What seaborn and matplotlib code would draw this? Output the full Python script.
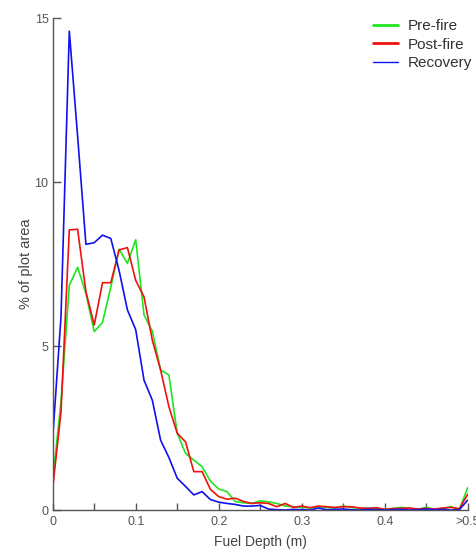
import numpy as np
import pandas as pd
import matplotlib
matplotlib.use("Agg")
import matplotlib.pyplot as plt
from matplotlib.ticker import MultipleLocator, FixedLocator, FixedFormatter
import seaborn as sns

# Fuel depth classes (m), 0.01 m bins; the last bin collects everything above 0.5 m
depth = [round(i * 0.01, 2) for i in range(51)]

pre_fire = [0.9, 3.3, 6.85, 7.4, 6.6, 5.44, 5.72, 6.8, 7.95, 7.52,
            8.24, 5.95, 5.45, 4.27, 4.12, 2.34, 1.73, 1.52, 1.32, 0.88,
            0.64, 0.56, 0.26, 0.22, 0.2, 0.28, 0.25, 0.2, 0.12, 0.1,
            0.08, 0.06, 0.1, 0.08, 0.06, 0.12, 0.08, 0.05, 0.05, 0.05,
            0.02, 0.05, 0.08, 0.05, 0.02, 0.08, 0.02, 0.05, 0.1, 0.02,
            0.68]

post_fire = [0.66, 3.0, 8.54, 8.56, 6.66, 5.64, 6.93, 6.93, 7.93, 8.0,
             7.0, 6.5, 5.18, 4.27, 3.15, 2.34, 2.08, 1.17, 1.17, 0.63,
             0.41, 0.33, 0.36, 0.26, 0.2, 0.22, 0.2, 0.1, 0.2, 0.08,
             0.12, 0.07, 0.12, 0.1, 0.08, 0.1, 0.1, 0.06, 0.05, 0.07,
             0.02, 0.04, 0.05, 0.06, 0.03, 0.05, 0.03, 0.06, 0.08, 0.04,
             0.48]

recovery = [2.2, 5.9, 14.6, 11.4, 8.1, 8.15, 8.38, 8.28, 7.3, 6.1,
            5.5, 3.96, 3.35, 2.13, 1.6, 0.97, 0.72, 0.46, 0.56, 0.32,
            0.24, 0.2, 0.17, 0.12, 0.12, 0.14, 0.03, 0.01, 0.0, 0.02,
            0.01, 0.0, 0.06, 0.01, 0.02, 0.03, 0.01, 0.0, 0.02, 0.01,
            0.0, 0.01, 0.02, 0.0, 0.01, 0.03, 0.01, 0.02, 0.0, 0.01,
            0.3]

series_names = ["Pre-fire", "Post-fire", "Recovery"]
series_colors = {"Pre-fire": "#1fe61f", "Post-fire": "#f01010", "Recovery": "#1010f0"}

x_tick_values = [0.0, 0.1, 0.2, 0.3, 0.4, 0.5]
x_tick_labels = ["0", "0.1", "0.2", "0.3", "0.4", ">0.5"]
y_tick_values = [0, 5, 10, 15]

df = pd.DataFrame({
    "depth": depth * 3,
    "area": pre_fire + post_fire + recovery,
    "period": sum([[name] * len(depth) for name in series_names], []),
})

sns.set_theme(style="ticks")
plt.rcParams["font.family"] = ["Liberation Sans", "DejaVu Sans"]

fig = plt.figure(figsize=(4.77, 5.5), dpi=100)
ax = fig.add_axes([0.1105, 0.0727, 0.87, 0.8945])

sns.lineplot(data=df, x="depth", y="area", hue="period", hue_order=series_names,
             palette=series_colors, linewidth=1.2, ax=ax, legend=True)

ax.set_xlim(0, 0.5)
ax.set_ylim(0, 15)

spine_color = "#555555"
for side in ("top", "right"):
    ax.spines[side].set_visible(False)
for side in ("left", "bottom"):
    ax.spines[side].set_color(spine_color)
    ax.spines[side].set_linewidth(1.0)

ax.xaxis.set_major_locator(FixedLocator(x_tick_values))
ax.xaxis.set_major_formatter(FixedFormatter(x_tick_labels))
ax.xaxis.set_minor_locator(MultipleLocator(0.05))
ax.yaxis.set_major_locator(FixedLocator(y_tick_values))

ax.tick_params(axis="both", which="both", direction="in", color=spine_color,
               labelcolor="#555555", labelsize=9, width=1.0)
ax.tick_params(axis="x", which="both", length=5, pad=4)
ax.tick_params(axis="y", which="major", length=6, pad=3)

ax.set_xlabel("Fuel Depth (m)", fontsize=10, color="#444444", labelpad=5)
ax.set_ylabel("% of plot area", fontsize=10.5, color="#444444", labelpad=1)

handles, labels = ax.get_legend_handles_labels()
leg = ax.legend(handles, labels, loc="upper left", bbox_to_anchor=(0.782, 0.965),
                bbox_transform=fig.transFigure, frameon=False, fontsize=11,
                handlelength=1.65, handletextpad=0.6, labelspacing=0.3,
                borderpad=0, borderaxespad=0)
for line, w in zip(leg.get_lines(), [2.0, 2.0, 1.0]):
    line.set_linewidth(w)
for text in leg.get_texts():
    text.set_color("#333333")

fig.savefig("out.png", dpi=100)
